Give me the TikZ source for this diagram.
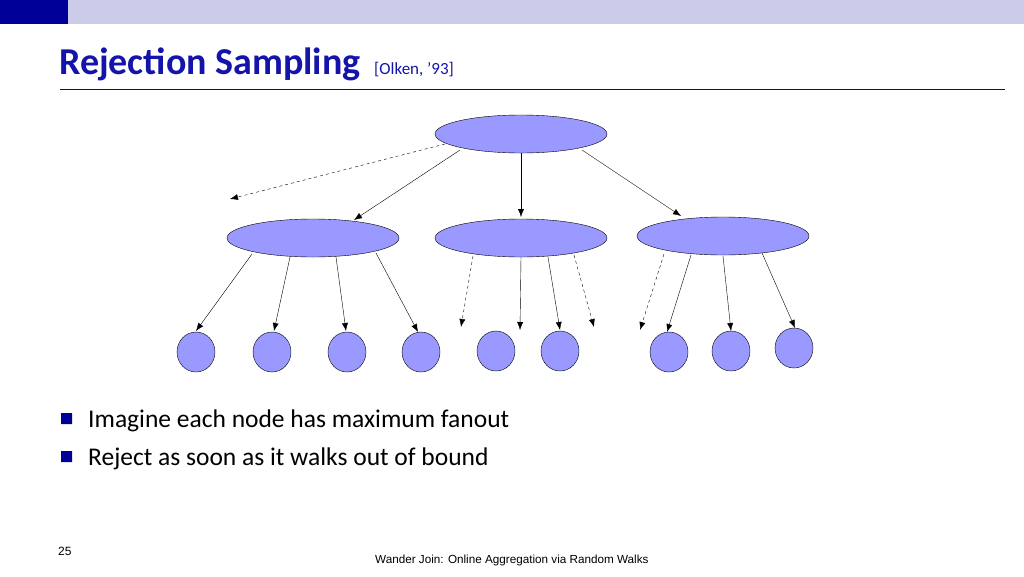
\documentclass[tikz,border=0pt]{standalone}
\usepackage{fontspec}
\setmainfont{Carlito}
\newfontfamily\arialf{Liberation Sans}
\usetikzlibrary{shapes.geometric,arrows.meta}
\definecolor{nodefill}{RGB}{153,153,255}
\definecolor{titleblue}{RGB}{20,20,170}
\definecolor{barlight}{RGB}{204,204,234}
\definecolor{bardark}{RGB}{0,0,153}
\tikzset{
  big/.style={ellipse,draw,fill=nodefill,minimum width=172pt,minimum height=38pt,inner sep=0},
  leaf/.style={ellipse,draw,fill=nodefill,minimum width=38pt,minimum height=40pt,inner sep=0},
  arr/.style={-{Latex[length=8pt,width=6pt]},thin},
  darr/.style={arr,dashed}
}
\begin{document}
\begin{tikzpicture}[x=1pt,y=-1pt]
\useasboundingbox (0,0) rectangle (1024,576);
\fill[barlight] (0,0) rectangle (1024,24);
\fill[bardark] (0,0) rectangle (68,24);
\node[anchor=base west,text=titleblue,font=\bfseries\fontsize{38}{42}\selectfont,inner sep=0] (title) at (59,74) {Rejection Sampling};
\node[anchor=base west,text=titleblue,font=\fontsize{17}{20}\selectfont,inner sep=0] (cite) at (374,74) {[Olken, ’93]};
\draw[titleblue!60!black,thin] (60,89) -- (1005,89);

\node[big] (R) at (521,134) {};
\node[big] (A) at (313,238) {};
\node[big] (B) at (521,238) {};
\node[big] (C) at (723,236) {};
\foreach \n/\x/\y in {1/196/352,2/272/352,3/347/352,4/421/352,5/496/351,6/560/351,7/669/352,8/731/351,9/794/348}
  \node[leaf] (l\n) at (\x,\y) {};

\coordinate (r0) at (445,144); \coordinate (r0e) at (230,199);
\coordinate (r1) at (460,150); \coordinate (r1e) at (354,220);
\coordinate (r2) at (521,153); \coordinate (r2e) at (521,217);
\coordinate (r3) at (582,150); \coordinate (r3e) at (681,216);
\draw[darr] (r0) -- (r0e);
\draw[arr] (r1) -- (r1e);
\draw[arr] (r2) -- (r2e);
\draw[arr] (r3) -- (r3e);

\coordinate (a1) at (252,254); \coordinate (a1e) at (196,331);
\coordinate (a2) at (290,257); \coordinate (a2e) at (274,331);
\coordinate (a3) at (336,257); \coordinate (a3e) at (346,331);
\coordinate (a4) at (376,253); \coordinate (a4e) at (418,332);
\foreach \i in {1,2,3,4} \draw[arr] (a\i) -- (a\i e);

\coordinate (b0) at (473,256); \coordinate (b0e) at (461,327);
\coordinate (b1) at (521,257); \coordinate (b1e) at (520,330);
\coordinate (b2) at (548,257); \coordinate (b2e) at (560,330);
\coordinate (b3) at (574,255); \coordinate (b3e) at (594,327);
\draw[darr] (b0) -- (b0e);
\draw[arr] (b1) -- (b1e);
\draw[arr] (b2) -- (b2e);
\draw[darr] (b3) -- (b3e);

\coordinate (c0) at (664,254); \coordinate (c0e) at (640,330);
\coordinate (c1) at (691,255); \coordinate (c1e) at (667,332);
\coordinate (c2) at (723,256); \coordinate (c2e) at (731,331);
\coordinate (c3) at (762,253); \coordinate (c3e) at (795,328);
\draw[darr] (c0) -- (c0e);
\foreach \i in {1,2,3} \draw[arr] (c\i) -- (c\i e);

\fill[bardark] (61,413) rectangle (72,424) (61,451) rectangle (72,462);
\node[anchor=base west,font=\fontsize{25.5}{30}\selectfont,inner sep=0] (t1) at (88,427) {Imagine each node has maximum fanout};
\node[anchor=base west,font=\fontsize{25.5}{30}\selectfont,inner sep=0] (t2) at (88,465) {Reject as soon as it walks out of bound};
\node[anchor=base west,font=\arialf\fontsize{12}{14}\selectfont,inner sep=0] (pg) at (58,555) {25};
\node[anchor=base west,font=\arialf\fontsize{11.7}{14}\selectfont,inner sep=0] (ft) at (375,563) {Wander Join: Online Aggregation via Random Walks};
\end{tikzpicture}
\end{document}
